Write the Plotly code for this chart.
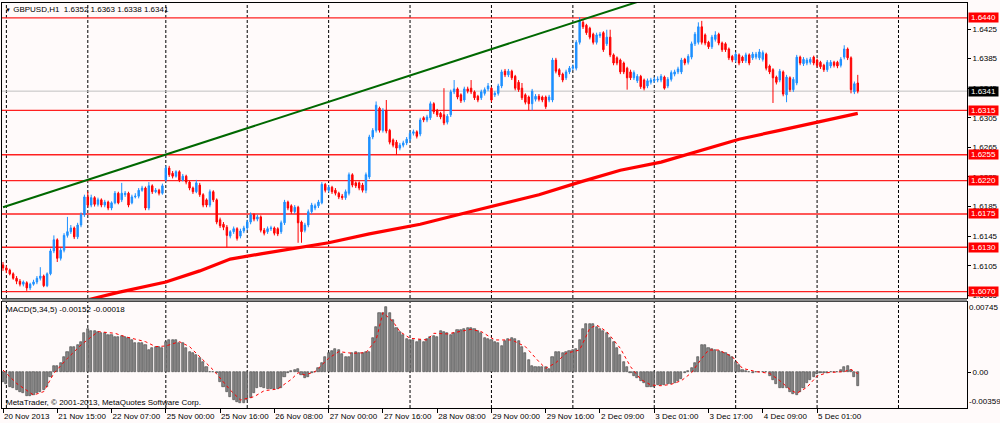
import plotly.graph_objects as go

# ---------------- data ----------------
bars = list(range(253))

opens = [
1.6106,1.6102,1.6099,1.6094,1.6088,1.6084,1.6080,1.6082,1.6075,1.6080,
1.6083,1.6088,1.6091,1.6078,1.6094,1.6125,1.6140,1.6115,1.6126,1.6146,
1.6151,1.6156,1.6144,1.6160,1.6174,1.6198,1.6187,1.6197,1.6188,1.6194,
1.6187,1.6191,1.6183,1.6190,1.6203,1.6194,1.6201,1.6203,1.6190,1.6198,
1.6199,1.6207,1.6210,1.6183,1.6213,1.6205,1.6207,1.6203,1.6221,1.6237,
1.6230,1.6226,1.6232,1.6221,1.6226,1.6218,1.6210,1.6205,1.6214,1.6201,
1.6194,1.6187,1.6205,1.6194,1.6167,1.6161,1.6157,1.6145,1.6151,1.6155,
1.6145,1.6152,1.6156,1.6164,1.6174,1.6168,1.6171,1.6153,1.6151,1.6155,
1.6156,1.6155,1.6151,1.6163,1.6191,1.6186,1.6178,1.6184,1.6164,1.6153,
1.6160,1.6178,1.6183,1.6186,1.6190,1.6215,1.6207,1.6211,1.6207,1.6203,
1.6199,1.6197,1.6203,1.6228,1.6217,1.6217,1.6214,1.6207,1.6225,1.6279,
1.6288,1.6318,1.6288,1.6315,1.6288,1.6275,1.6272,1.6264,1.6268,1.6271,
1.6276,1.6284,1.6286,1.6283,1.6305,1.6302,1.6305,1.6324,1.6315,1.6311,
1.6309,1.6299,1.6309,1.6340,1.6344,1.6336,1.6329,1.6344,1.6345,1.6340,
1.6334,1.6332,1.6338,1.6344,1.6345,1.6336,1.6338,1.6348,1.6368,1.6363,
1.6368,1.6361,1.6353,1.6345,1.6336,1.6333,1.6324,1.6330,1.6334,1.6333,
1.6333,1.6329,1.6329,1.6383,1.6370,1.6364,1.6359,1.6367,1.6372,1.6372,
1.6407,1.6434,1.6430,1.6426,1.6418,1.6407,1.6416,1.6420,1.6405,1.6414,
1.6390,1.6386,1.6383,1.6379,1.6372,1.6367,1.6359,1.6355,1.6361,1.6356,
1.6348,1.6353,1.6355,1.6356,1.6356,1.6360,1.6348,1.6357,1.6364,1.6367,
1.6367,1.6384,1.6380,1.6387,1.6405,1.6407,1.6428,1.6417,1.6407,1.6401,
1.6411,1.6418,1.6406,1.6405,1.6398,1.6388,1.6383,1.6390,1.6387,1.6382,
1.6390,1.6386,1.6387,1.6386,1.6384,1.6391,1.6375,1.6370,1.6360,1.6356,
1.6367,1.6336,1.6359,1.6343,1.6352,1.6387,1.6378,1.6379,1.6380,1.6387,
1.6383,1.6380,1.6376,1.6370,1.6375,1.6380,1.6380,1.6376,1.6387,1.6398,
1.6386,1.6340,1.6352]

highs = [
1.6110,1.6105,1.6101,1.6096,1.6091,1.6087,1.6085,1.6084,1.6082,1.6086,
1.6091,1.6103,1.6093,1.6096,1.6128,1.6146,1.6142,1.6129,1.6149,1.6171,
1.6160,1.6158,1.6163,1.6177,1.6201,1.6205,1.6201,1.6199,1.6197,1.6196,
1.6194,1.6193,1.6192,1.6206,1.6205,1.6217,1.6206,1.6205,1.6201,1.6203,
1.6210,1.6213,1.6212,1.6218,1.6215,1.6210,1.6209,1.6216,1.6240,1.6240,
1.6233,1.6234,1.6234,1.6229,1.6228,1.6220,1.6212,1.6221,1.6217,1.6203,
1.6196,1.6208,1.6207,1.6196,1.6170,1.6164,1.6160,1.6153,1.6158,1.6157,
1.6155,1.6159,1.6167,1.6177,1.6176,1.6174,1.6173,1.6156,1.6158,1.6159,
1.6158,1.6157,1.6166,1.6194,1.6193,1.6188,1.6187,1.6186,1.6166,1.6163,
1.6181,1.6190,1.6189,1.6194,1.6218,1.6217,1.6214,1.6213,1.6210,1.6205,
1.6202,1.6208,1.6231,1.6230,1.6219,1.6219,1.6217,1.6231,1.6282,1.6291,
1.6327,1.6320,1.6318,1.6329,1.6290,1.6277,1.6275,1.6271,1.6274,1.6279,
1.6287,1.6289,1.6288,1.6305,1.6307,1.6309,1.6327,1.6326,1.6317,1.6313,
1.6345,1.6310,1.6343,1.6356,1.6346,1.6338,1.6347,1.6347,1.6356,1.6342,
1.6336,1.6343,1.6346,1.6352,1.6347,1.6341,1.6351,1.6370,1.6371,1.6371,
1.6370,1.6363,1.6356,1.6352,1.6338,1.6335,1.6344,1.6337,1.6337,1.6335,
1.6335,1.6336,1.6386,1.6386,1.6372,1.6366,1.6370,1.6375,1.6377,1.6410,
1.6441,1.6437,1.6432,1.6428,1.6420,1.6420,1.6421,1.6422,1.6424,1.6424,
1.6392,1.6388,1.6385,1.6381,1.6374,1.6370,1.6369,1.6364,1.6363,1.6358,
1.6358,1.6359,1.6360,1.6361,1.6364,1.6362,1.6360,1.6369,1.6370,1.6374,
1.6386,1.6386,1.6391,1.6408,1.6421,1.6434,1.6436,1.6419,1.6409,1.6417,
1.6422,1.6420,1.6408,1.6407,1.6400,1.6390,1.6394,1.6392,1.6389,1.6393,
1.6392,1.6394,1.6394,1.6398,1.6396,1.6393,1.6377,1.6372,1.6362,1.6371,
1.6369,1.6363,1.6361,1.6360,1.6390,1.6389,1.6387,1.6386,1.6387,1.6389,
1.6385,1.6382,1.6378,1.6383,1.6383,1.6382,1.6382,1.6387,1.6403,1.6400,
1.6388,1.6354,1.6363]

lows = [
1.6098,1.6095,1.6092,1.6086,1.6080,1.6077,1.6077,1.6071,1.6072,1.6078,
1.6080,1.6085,1.6076,1.6076,1.6092,1.6122,1.6110,1.6112,1.6123,1.6143,
1.6148,1.6141,1.6141,1.6157,1.6171,1.6184,1.6184,1.6185,1.6185,1.6184,
1.6184,1.6180,1.6180,1.6188,1.6188,1.6191,1.6198,1.6184,1.6188,1.6196,
1.6196,1.6205,1.6180,1.6180,1.6202,1.6203,1.6200,1.6201,1.6219,1.6225,
1.6223,1.6224,1.6218,1.6219,1.6215,1.6207,1.6202,1.6203,1.6198,1.6184,
1.6184,1.6184,1.6191,1.6161,1.6156,1.6153,1.6130,1.6142,1.6148,1.6139,
1.6142,1.6149,1.6153,1.6161,1.6165,1.6165,1.6150,1.6146,1.6148,1.6152,
1.6146,1.6145,1.6148,1.6160,1.6180,1.6175,1.6175,1.6136,1.6136,1.6150,
1.6157,1.6175,1.6180,1.6183,1.6188,1.6204,1.6204,1.6202,1.6200,1.6195,
1.6194,1.6194,1.6200,1.6211,1.6210,1.6207,1.6204,1.6203,1.6222,1.6276,
1.6285,1.6285,1.6285,1.6284,1.6269,1.6265,1.6255,1.6261,1.6265,1.6268,
1.6273,1.6281,1.6277,1.6280,1.6299,1.6299,1.6302,1.6310,1.6306,1.6303,
1.6295,1.6296,1.6306,1.6337,1.6330,1.6325,1.6326,1.6338,1.6337,1.6329,
1.6326,1.6329,1.6335,1.6341,1.6326,1.6333,1.6335,1.6345,1.6360,1.6360,
1.6356,1.6342,1.6340,1.6329,1.6323,1.6315,1.6315,1.6327,1.6327,1.6326,
1.6317,1.6326,1.6326,1.6365,1.6360,1.6353,1.6356,1.6364,1.6369,1.6369,
1.6404,1.6425,1.6417,1.6411,1.6404,1.6404,1.6413,1.6394,1.6402,1.6387,
1.6376,1.6376,1.6364,1.6364,1.6343,1.6356,1.6356,1.6352,1.6344,1.6342,
1.6345,1.6350,1.6352,1.6353,1.6353,1.6343,1.6345,1.6354,1.6361,1.6364,
1.6364,1.6376,1.6377,1.6384,1.6402,1.6404,1.6404,1.6403,1.6398,1.6398,
1.6408,1.6403,1.6394,1.6394,1.6383,1.6380,1.6380,1.6376,1.6379,1.6379,
1.6376,1.6383,1.6384,1.6383,1.6381,1.6369,1.6364,1.6325,1.6350,1.6353,
1.6334,1.6326,1.6340,1.6340,1.6349,1.6376,1.6375,1.6376,1.6377,1.6376,
1.6373,1.6371,1.6367,1.6367,1.6372,1.6373,1.6372,1.6373,1.6384,1.6383,
1.6338,1.6337,1.6338]

closes = [
1.6102,1.6099,1.6094,1.6088,1.6084,1.6080,1.6083,1.6075,1.6080,1.6083,
1.6088,1.6091,1.6078,1.6094,1.6125,1.6140,1.6115,1.6126,1.6146,1.6151,
1.6156,1.6144,1.6160,1.6174,1.6198,1.6187,1.6197,1.6188,1.6194,1.6187,
1.6191,1.6183,1.6190,1.6203,1.6190,1.6203,1.6203,1.6187,1.6198,1.6199,
1.6207,1.6210,1.6183,1.6213,1.6205,1.6207,1.6203,1.6213,1.6237,1.6228,
1.6226,1.6232,1.6221,1.6226,1.6218,1.6210,1.6205,1.6217,1.6201,1.6187,
1.6187,1.6205,1.6194,1.6164,1.6159,1.6157,1.6146,1.6151,1.6155,1.6142,
1.6152,1.6156,1.6164,1.6174,1.6168,1.6171,1.6153,1.6149,1.6155,1.6156,
1.6149,1.6148,1.6163,1.6191,1.6183,1.6178,1.6184,1.6163,1.6151,1.6160,
1.6178,1.6187,1.6186,1.6191,1.6215,1.6207,1.6211,1.6205,1.6203,1.6198,
1.6197,1.6205,1.6228,1.6214,1.6213,1.6210,1.6207,1.6228,1.6279,1.6288,
1.6322,1.6288,1.6315,1.6287,1.6272,1.6268,1.6264,1.6268,1.6271,1.6276,
1.6284,1.6286,1.6280,1.6302,1.6302,1.6306,1.6324,1.6313,1.6309,1.6306,
1.6298,1.6307,1.6340,1.6344,1.6333,1.6328,1.6344,1.6341,1.6340,1.6332,
1.6329,1.6340,1.6343,1.6348,1.6329,1.6338,1.6348,1.6367,1.6363,1.6368,
1.6359,1.6345,1.6343,1.6332,1.6326,1.6324,1.6341,1.6334,1.6330,1.6329,
1.6320,1.6333,1.6383,1.6368,1.6363,1.6356,1.6367,1.6372,1.6374,1.6407,
1.6436,1.6428,1.6420,1.6414,1.6407,1.6417,1.6418,1.6397,1.6414,1.6390,
1.6379,1.6379,1.6367,1.6367,1.6359,1.6359,1.6366,1.6361,1.6347,1.6345,
1.6355,1.6356,1.6357,1.6357,1.6361,1.6345,1.6357,1.6366,1.6367,1.6371,
1.6383,1.6379,1.6388,1.6405,1.6418,1.6428,1.6407,1.6406,1.6401,1.6414,
1.6417,1.6406,1.6397,1.6397,1.6386,1.6383,1.6391,1.6379,1.6382,1.6390,
1.6379,1.6391,1.6391,1.6394,1.6393,1.6372,1.6367,1.6359,1.6353,1.6368,
1.6337,1.6360,1.6343,1.6357,1.6387,1.6379,1.6384,1.6383,1.6384,1.6379,
1.6376,1.6374,1.6370,1.6380,1.6380,1.6376,1.6375,1.6384,1.6398,1.6386,
1.6343,1.6351,1.6341]

macd = [
-0.00103,-0.00128,-0.00156,-0.00174,-0.00192,-0.00209,-0.00227,-0.00256,-0.00256,-0.00245,
-0.00227,-0.00209,-0.00192,-0.00156,-0.00050,0.00064,0.00064,0.00092,0.00163,0.00217,
0.00263,0.00263,0.00288,0.00323,0.00412,0.00454,0.00440,0.00440,0.00430,0.00419,
0.00412,0.00394,0.00394,0.00376,0.00376,0.00383,0.00376,0.00359,0.00341,0.00305,
0.00305,0.00305,0.00288,0.00234,0.00252,0.00270,0.00270,0.00252,0.00323,0.00341,
0.00341,0.00341,0.00312,0.00305,0.00252,0.00217,0.00199,0.00181,0.00146,0.00110,
0.00057,0.00004,0.00004,-0.00007,-0.00103,-0.00156,-0.00209,-0.00263,-0.00298,-0.00316,
-0.00327,-0.00327,-0.00298,-0.00280,-0.00227,-0.00174,-0.00156,-0.00174,-0.00185,-0.00185,
-0.00185,-0.00185,-0.00174,-0.00050,-0.00014,0.00011,0.00021,0.00036,-0.00032,-0.00067,
-0.00050,-0.00014,0.00004,0.00039,0.00099,0.00163,0.00199,0.00224,0.00241,0.00234,
0.00192,0.00163,0.00163,0.00206,0.00209,0.00206,0.00206,0.00217,0.00217,0.00359,
0.00483,0.00625,0.00632,0.00689,0.00632,0.00554,0.00465,0.00430,0.00394,0.00348,
0.00341,0.00341,0.00323,0.00341,0.00323,0.00348,0.00376,0.00383,0.00376,0.00440,
0.00430,0.00419,0.00394,0.00419,0.00447,0.00447,0.00454,0.00465,0.00465,0.00454,
0.00440,0.00412,0.00359,0.00348,0.00341,0.00323,0.00305,0.00277,0.00334,0.00348,
0.00359,0.00348,0.00334,0.00270,0.00199,0.00128,0.00064,0.00050,0.00050,0.00050,
0.00050,0.00036,0.00163,0.00217,0.00217,0.00206,0.00213,0.00220,0.00234,0.00241,
0.00341,0.00454,0.00511,0.00511,0.00511,0.00483,0.00454,0.00437,0.00419,0.00359,
0.00323,0.00252,0.00181,0.00110,0.00050,-0.00014,-0.00043,-0.00067,-0.00092,-0.00121,
-0.00156,-0.00156,-0.00156,-0.00138,-0.00138,-0.00138,-0.00128,-0.00128,-0.00114,-0.00092,
-0.00078,-0.00014,0.00014,0.00039,0.00092,0.00163,0.00288,0.00288,0.00252,0.00241,
0.00234,0.00227,0.00217,0.00199,0.00181,0.00163,0.00110,0.00075,0.00021,0.00011,
0.00004,-0.00007,0.00000,0.00004,0.00004,0.00000,-0.00043,-0.00085,-0.00128,-0.00174,
-0.00174,-0.00174,-0.00209,-0.00234,-0.00245,-0.00209,-0.00174,-0.00121,-0.00085,-0.00057,
-0.00021,-0.00014,-0.00007,-0.00014,-0.00004,0.00000,0.00000,0.00021,0.00057,0.00064,
0.00025,-0.00057,-0.00152]

sig_bars = [0,4,9,12,15,19,23,28,33,36,42,45,48,52,55,58,62,67,70,74,
            77,81,85,87,89,92,96,99,103,107,110,112,115,117,120,125,127,131,135,138,
            141,145,150,154,158,160,163,166,170,173,175,178,182,185,188,191,194,197,200,203,
            206,208,211,215,218,222,226,229,232,234,237,240,243,248,250,252]
sig_vals = [0.00021,-0.00121,-0.00245,-0.00209,-0.00014,0.00146,0.00288,0.00430,0.00412,0.00376,
            0.00323,0.00270,0.00277,0.00323,0.00270,0.00163,0.00021,-0.00192,-0.00298,-0.00263,
            -0.00199,-0.00181,-0.00078,-0.00007,-0.00032,0.00004,0.00146,0.00217,0.00199,0.00206,
            0.00341,0.00632,0.00536,0.00430,0.00359,0.00341,0.00412,0.00405,0.00430,0.00454,
            0.00430,0.00341,0.00341,0.00270,0.00110,0.00039,0.00099,0.00199,0.00234,0.00465,
            0.00500,0.00430,0.00252,0.00057,-0.00078,-0.00138,-0.00146,-0.00131,-0.00092,-0.00007,
            0.00146,0.00234,0.00234,0.00163,0.00039,0.00004,-0.00014,-0.00092,-0.00185,-0.00227,
            -0.00163,-0.00043,-0.00007,0.00004,0.00028,-0.00018]

ma_bars = [20, 26, 34, 48, 58, 67, 76, 88, 96, 108, 123, 135, 147, 158, 170, 182, 194, 206, 217, 229, 240, 252]
ma_vals = [1.6052, 1.6060, 1.6069, 1.6083, 1.6098, 1.6114, 1.6121, 1.6130, 1.6136, 1.6148, 1.6161,
           1.6175, 1.6188, 1.6201, 1.6218, 1.6234, 1.6245, 1.6261, 1.6276, 1.6288, 1.6299, 1.6311]

trend_bars = [0, 190]
trend_vals = [1.6184, 1.6466]

levels = [1.6440, 1.6315, 1.6255, 1.6220, 1.6175, 1.6130, 1.6070]
last_price = 1.6341

price_ticks = [1.6425, 1.6385, 1.6345, 1.6305, 1.6265, 1.6225, 1.6185, 1.6145, 1.6105, 1.6065]
time_ticks = [0, 16, 32, 48, 64, 80, 96, 112, 128, 144, 160, 176, 192, 208, 224, 240]
time_labels = ["20 Nov 2013", "21 Nov 15:00", "22 Nov 07:00", "25 Nov 00:00", "25 Nov 16:00",
               "26 Nov 08:00", "27 Nov 00:00", "27 Nov 16:00", "28 Nov 08:00", "29 Nov 00:00",
               "29 Nov 16:00", "2 Dec 09:00", "3 Dec 01:00", "3 Dec 17:00", "4 Dec 09:00",
               "5 Dec 01:00"]
grid_bars = [1, 25, 48, 72, 96, 120, 144, 168, 192, 216, 240, 264]

header_text = "GBPUSD,H1\u00a0\u00a01.6352 1.6363 1.6338 1.6341"
macd_text = "MACD(5,34,5) -0.00152 -0.00018"
macd_top_label = "0.00745"
macd_bottom_label = "-0.00359"
watermark = "MetaTrader, \u00a9 2001-2013, MetaQuotes Software Corp."

# ---------------- layout geometry ----------------
W, H = 1000, 423
PL, PR, PT, PB = 2, 967, 3, 408
BG = "#FFFAFA"
FONT = "Liberation Sans"


def fx(px):
    return (px - PL) / (PR - PL)


def fy(py):
    return (PB - py) / (PB - PT)


fig = go.Figure()

fig.add_trace(go.Scatter(x=ma_bars, y=ma_vals, mode="lines",
                         line=dict(color="#FF0000", width=3.2),
                         xaxis="x", yaxis="y", showlegend=False, hoverinfo="skip"))

fig.add_trace(go.Candlestick(
    x=bars, open=opens, high=highs, low=lows, close=closes,
    increasing=dict(line=dict(color="#1E90FF", width=1), fillcolor="#1E90FF"),
    decreasing=dict(line=dict(color="#FF0000", width=1), fillcolor="#FF0000"),
    whiskerwidth=0, xaxis="x", yaxis="y", showlegend=False))

fig.add_trace(go.Scatter(x=trend_bars, y=trend_vals, mode="lines",
                         line=dict(color="#006800", width=2),
                         xaxis="x", yaxis="y", showlegend=False, hoverinfo="skip"))

fig.add_trace(go.Bar(x=bars, y=macd, width=0.62,
                     marker=dict(color="#8A8A8A", line=dict(color="#3C3C3C", width=0.6)),
                     xaxis="x2", yaxis="y2", showlegend=False))

fig.add_trace(go.Scatter(x=sig_bars, y=sig_vals, mode="lines",
                         line=dict(color="#FF0000", width=1, dash="dot"),
                         xaxis="x2", yaxis="y2", showlegend=False, hoverinfo="skip"))

shapes = []
for gb in grid_bars:
    shapes.append(dict(type="line", xref="x", yref="paper", x0=gb, x1=gb, y0=0, y1=1,
                       line=dict(color="#000000", width=1, dash="3px,2px"), layer="below"))
for lv in levels:
    shapes.append(dict(type="line", xref="x domain", yref="y", x0=0, x1=1, y0=lv, y1=lv,
                       line=dict(color="#FF2020", width=1.4), layer="below"))
shapes.append(dict(type="line", xref="x domain", yref="y", x0=0, x1=1, y0=last_price, y1=last_price,
                   line=dict(color="#C0C0C0", width=1), layer="below"))
# separator between the two panels
shapes.append(dict(type="rect", xref="paper", yref="paper", x0=0, x1=1,
                   y0=fy(301.6), y1=fy(298.4), fillcolor="#8C8C8C", line=dict(width=0), layer="above"))

annotations = []
for lv in levels:
    annotations.append(dict(text=f"{lv:.4f}", xref="paper", yref="y", x=1, y=lv,
                            xanchor="left", yanchor="middle", xshift=1, showarrow=False,
                            bgcolor="#FF0000", width=29, height=9, borderpad=0,
                            font=dict(family=FONT, size=8, color="#FFFFFF")))
annotations.append(dict(text=f"{last_price:.4f}", xref="paper", yref="y", x=1, y=last_price,
                        xanchor="left", yanchor="middle", xshift=1, showarrow=False,
                        bgcolor="#000000", width=29, height=9, borderpad=0,
                        font=dict(family=FONT, size=8, color="#FFFFFF")))
annotations.append(dict(text="<span style='font-size:6px'>\u25BC</span> " + header_text,
                        xref="paper", yref="paper", x=fx(4), y=fy(9.5),
                        xanchor="left", yanchor="middle", showarrow=False, borderpad=0,
                        font=dict(family=FONT, size=8, color="#000000")))
annotations.append(dict(text=macd_text, xref="paper", yref="paper", x=fx(5), y=fy(309.5),
                        xanchor="left", yanchor="middle", showarrow=False, borderpad=0,
                        font=dict(family=FONT, size=8, color="#000000")))
annotations.append(dict(text=watermark, xref="paper", yref="paper", x=fx(5), y=fy(402),
                        xanchor="left", yanchor="middle", showarrow=False, borderpad=0,
                        font=dict(family=FONT, size=8, color="#000000")))
annotations.append(dict(text=macd_top_label, xref="paper", yref="paper", x=1, y=fy(307),
                        xanchor="left", yanchor="middle", xshift=1, showarrow=False, borderpad=0,
                        font=dict(family=FONT, size=8, color="#000000")))
annotations.append(dict(text=macd_bottom_label, xref="paper", yref="paper", x=1, y=fy(401),
                        xanchor="left", yanchor="middle", xshift=1, showarrow=False, borderpad=0,
                        font=dict(family=FONT, size=8, color="#000000")))

x_range = [(PL - 3) / 3.392, (PR - 3) / 3.392]
price_top = 1.6425 + (29 - PT) / 7397
price_bot = 1.6425 - (298 - 29) / 7397

axis_common = dict(showline=True, mirror=True, linecolor="#000000", linewidth=1,
                   showgrid=False, zeroline=False, automargin=False)

fig.update_layout(
    width=W, height=H,
    margin=dict(l=PL, r=W - PR, t=PT, b=H - PB, pad=0, autoexpand=False),
    paper_bgcolor=BG, plot_bgcolor=BG,
    font=dict(family=FONT, size=8, color="#000000"),
    showlegend=False, boxgap=0.4, bargap=0,
    xaxis=dict(domain=[0, 1], anchor="y", range=x_range, showticklabels=False, ticks="",
               rangeslider=dict(visible=False), **axis_common),
    yaxis=dict(domain=[fy(298), 1], anchor="x", side="right", range=[price_bot, price_top],
               tickmode="array", tickvals=price_ticks, tickformat=".4f",
               ticks="outside", ticklen=3, tickcolor="#000000",
               tickfont=dict(family=FONT, size=8, color="#000000"), **axis_common),
    xaxis2=dict(domain=[0, 1], anchor="y2", matches="x", range=x_range,
                tickmode="array", tickvals=time_ticks, ticktext=time_labels, tickangle=0,
                ticks="outside", ticklen=4, tickcolor="#000000",
                ticklabelposition="outside right",
                tickfont=dict(family=FONT, size=8, color="#000000"), **axis_common),
    yaxis2=dict(domain=[0, fy(302)], anchor="x2", side="right", range=[-0.00383, 0.00745],
                tickmode="array", tickvals=[0], ticktext=["0.00"],
                ticks="outside", ticklen=3, tickcolor="#000000",
                tickfont=dict(family=FONT, size=8, color="#000000"), **axis_common),
    shapes=shapes, annotations=annotations,
)

fig.write_html("out.html",
               config={"displayModeBar": False},
               post_script="document.body.style.margin='0';document.body.style.padding='0';"
                           "document.documentElement.style.overflow='hidden';")
